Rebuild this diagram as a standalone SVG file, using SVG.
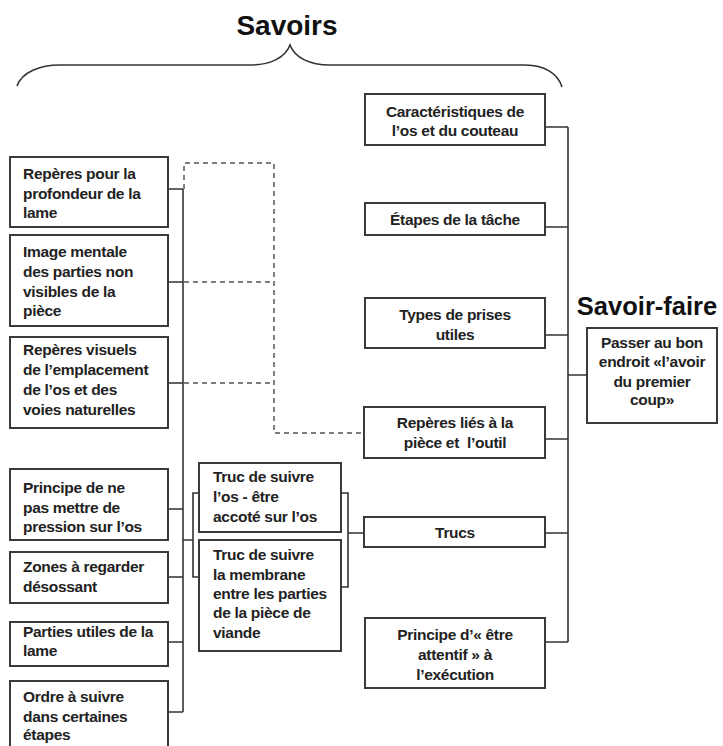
<svg xmlns="http://www.w3.org/2000/svg" width="723" height="746" viewBox="0 0 723 746">
<style>
.bg{fill:#ffffff}
.box{fill:#ffffff;stroke:#3a3a3a;stroke-width:2}
.t{font-family:"Liberation Sans",Arial,sans-serif;font-weight:bold;font-size:15.5px;fill:#222222;letter-spacing:-0.3px}
.c{text-anchor:middle}
.ln{fill:none;stroke:#333333;stroke-width:1.6}
.dash{fill:none;stroke:#555555;stroke-width:1.5;stroke-dasharray:5,4}
.title{font-family:"Liberation Sans",Arial,sans-serif;font-weight:bold;fill:#111111}
</style>
<rect class="bg" x="0" y="0" width="723" height="746"/>

<g id="connectors">
  <path class="ln" d="M17,86 C22,72 40,65 60,65 L250,65 C270,65 285,58 290,45 C295,58 310,65 330,65 L525,65 C545,65 558,74 562,87"/>
  <!-- left trunk -->
  <path class="ln" d="M183,189 V712"/>
  <path class="ln" d="M168,189 H183 M168,282 H183 M168,383 H183 M168,509 H183 M168,577 H183 M168,642 H183 M168,712 H183"/>
  <!-- left bracket to truc boxes -->
  <path class="ln" d="M183,540 H193 M199,493 H193 V577 H199"/>
  <!-- right bracket -->
  <path class="ln" d="M341,493 H348 V587 H341 M348,533 H364"/>
  <!-- right trunk -->
  <path class="ln" d="M568,127 V642"/>
  <path class="ln" d="M545,127 H568 M545,227 H568 M545,335 H568 M545,439 H568 M545,533 H568 M545,642 H568 M568,375 H587"/>
  <!-- dashed -->
  <path class="dash" d="M184,189 V163 H274 V433 H364"/>
  <path class="dash" d="M184,282 H274 M184,383 H274"/>
</g>

<g id="savoirs-title"><text class="title" x="287" y="35" font-size="28" text-anchor="middle">Savoirs</text></g>
<g id="savoir-faire-title"><text class="title" x="647" y="315" font-size="25.5" text-anchor="middle">Savoir-faire</text></g>

<g id="n-reperes-profondeur">
  <rect class="box" x="10" y="157" width="158" height="70"/>
  <text class="t" x="23" y="179">Repères pour la</text>
  <text class="t" x="23" y="199">profondeur de la</text>
  <text class="t" x="23" y="218">lame</text>
</g>
<g id="n-image-mentale">
  <rect class="box" x="10" y="235" width="158" height="91"/>
  <text class="t" x="23" y="257">Image mentale</text>
  <text class="t" x="23" y="277">des parties non</text>
  <text class="t" x="23" y="297">visibles de la</text>
  <text class="t" x="23" y="316">pièce</text>
</g>
<g id="n-reperes-visuels">
  <rect class="box" x="10" y="337" width="158" height="91"/>
  <text class="t" x="23" y="355">Repères visuels</text>
  <text class="t" x="23" y="375">de l’emplacement</text>
  <text class="t" x="23" y="395">de l’os et des</text>
  <text class="t" x="23" y="415">voies naturelles</text>
</g>
<g id="n-principe-pression">
  <rect class="box" x="10" y="469" width="158" height="71"/>
  <text class="t" x="23" y="493">Principe de ne</text>
  <text class="t" x="23" y="513">pas mettre de</text>
  <text class="t" x="23" y="532">pression sur l’os</text>
</g>
<g id="n-zones">
  <rect class="box" x="10" y="552" width="158" height="51"/>
  <text class="t" x="23" y="572">Zones à regarder</text>
  <text class="t" x="23" y="592">désossant</text>
</g>
<g id="n-parties-lame">
  <rect class="box" x="10" y="622" width="158" height="44"/>
  <text class="t" x="23" y="637">Parties utiles de la</text>
  <text class="t" x="23" y="656">lame</text>
</g>
<g id="n-ordre">
  <rect class="box" x="10" y="681" width="158" height="80"/>
  <text class="t" x="23" y="702">Ordre à suivre</text>
  <text class="t" x="23" y="722">dans certaines</text>
  <text class="t" x="23" y="740">étapes</text>
</g>

<g id="n-truc-os">
  <rect class="box" x="199" y="463" width="142" height="69"/>
  <text class="t" x="213" y="482">Truc de suivre</text>
  <text class="t" x="213" y="502">l’os - être</text>
  <text class="t" x="213" y="522">accoté sur l’os</text>
</g>
<g id="n-truc-membrane">
  <rect class="box" x="199" y="540" width="142" height="111"/>
  <text class="t" x="213" y="560">Truc de suivre</text>
  <text class="t" x="213" y="580">la membrane</text>
  <text class="t" x="213" y="599">entre les parties</text>
  <text class="t" x="213" y="618">de la pièce de</text>
  <text class="t" x="213" y="638">viande</text>
</g>

<g id="n-caracteristiques">
  <rect class="box" x="365" y="94" width="180" height="51"/>
  <text class="t c" x="455" y="117">Caractéristiques de</text>
  <text class="t c" x="455" y="136">l’os et du couteau</text>
</g>
<g id="n-etapes">
  <rect class="box" x="365" y="203" width="180" height="32"/>
  <text class="t c" x="455" y="225">Étapes de la tâche</text>
</g>
<g id="n-types">
  <rect class="box" x="365" y="298" width="180" height="50"/>
  <text class="t c" x="455" y="320">Types de prises</text>
  <text class="t c" x="455" y="340">utiles</text>
</g>
<g id="n-reperes-lies">
  <rect class="box" x="364" y="407" width="181" height="51"/>
  <text class="t c" x="455" y="428">Repères liés à la</text>
  <text class="t c" x="455" y="448" xml:space="preserve">pièce et  l’outil</text>
</g>
<g id="n-trucs">
  <rect class="box" x="364" y="517" width="181" height="30"/>
  <text class="t c" x="455" y="538">Trucs</text>
</g>
<g id="n-principe-attentif">
  <rect class="box" x="365" y="618" width="180" height="70"/>
  <text class="t c" x="455" y="640">Principe d’« être</text>
  <text class="t c" x="455" y="660">attentif » à</text>
  <text class="t c" x="455" y="680">l’exécution</text>
</g>

<g id="n-passer">
  <rect class="box" x="587" y="328" width="130" height="95"/>
  <text class="t c" x="652" y="348">Passer au bon</text>
  <text class="t c" x="652" y="367">endroit «l’avoir</text>
  <text class="t c" x="652" y="387">du premier</text>
  <text class="t c" x="652" y="405">coup»</text>
</g>
</svg>
